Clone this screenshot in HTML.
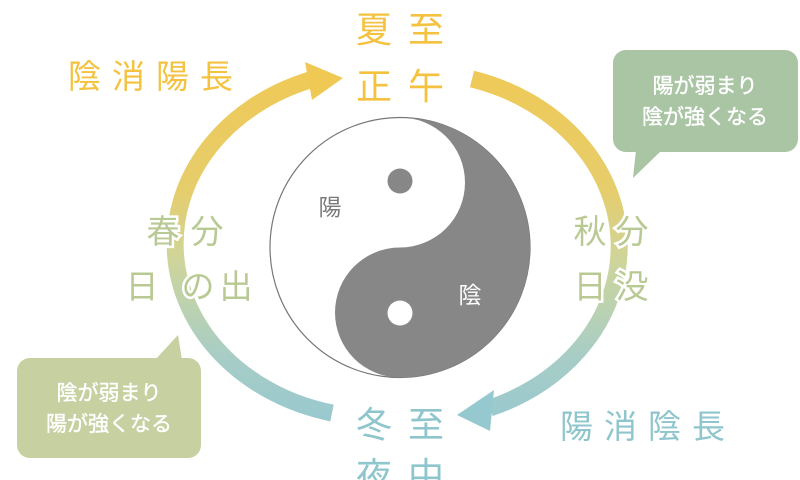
<!DOCTYPE html>
<html><head><meta charset="utf-8"><style>
html,body{margin:0;padding:0;background:#fff;width:800px;height:480px;overflow:hidden}
svg text{font-family:"Liberation Sans","Noto Sans CJK JP",sans-serif}
</style></head><body>
<svg width="800" height="480" viewBox="0 0 800 480" xmlns="http://www.w3.org/2000/svg">
<defs>
<linearGradient id="g" x1="0" y1="60" x2="0" y2="430" gradientUnits="userSpaceOnUse">
<stop offset="0" stop-color="#f0c955"/>
<stop offset="0.35" stop-color="#e6cd6c"/>
<stop offset="0.55" stop-color="#cdd59c"/>
<stop offset="0.8" stop-color="#a8cdc6"/>
<stop offset="1" stop-color="#96c8d0"/>
</linearGradient>
</defs>
<path d="M332,413 A204,174 0 0 1 310,80" fill="none" stroke="url(#g)" stroke-width="17"/>
<polygon points="343,78 305,62 312,100" fill="#f0c955"/>
<path d="M472,79 A204,174 0 0 1 490,408" fill="none" stroke="url(#g)" stroke-width="17"/>
<polygon points="457,415 494,390 490,431" fill="#96c8d0"/>
<circle cx="400" cy="247.5" r="130" fill="#fff" stroke="#777" stroke-width="1.2"/>
<path d="M400,117.5 A130,130 0 0 1 400,377.5 A65,65 0 0 1 400,247.5 A65,65 0 0 0 400,117.5 Z" fill="#878787"/>
<circle cx="400" cy="181" r="12.5" fill="#878787"/>
<circle cx="400" cy="313" r="12.5" fill="#fff"/>
<text x="330" y="215" font-size="23" fill="#7a7a7a" text-anchor="middle">陽</text>
<text x="470" y="303" font-size="23" fill="#fff" text-anchor="middle">陰</text>
<g font-size="36" fill="#f4c23f" text-anchor="middle">
<text x="374" y="42">夏</text><text x="426" y="42">至</text>
<text x="374" y="99">正</text><text x="426" y="99">午</text>
</g>
<g font-size="36" fill="#8fc5cc" text-anchor="middle">
<text x="374" y="437">冬</text><text x="426" y="437">至</text>
<text x="374" y="488">夜</text><text x="426" y="488">中</text>
</g>
<g font-size="33" fill="#b9c994" text-anchor="middle" stroke="#fff" stroke-width="5" paint-order="stroke">
<text x="163" y="243">春</text><text x="207" y="243">分</text>
<text x="142" y="298">日</text><text x="198" y="298">の</text><text x="236" y="298">出</text>
<text x="590" y="243">秋</text><text x="632" y="243">分</text>
<text x="590" y="298">日</text><text x="632" y="298">没</text>
</g>
<text x="68" y="88" font-size="33" fill="#f4c23f" letter-spacing="11">陰消陽長</text>
<text x="560" y="438" font-size="33" fill="#8fc5cc" letter-spacing="11">陽消陰長</text>
<rect x="613" y="50" width="185" height="102" rx="13" fill="#a9c5a4"/>
<polygon points="636,150 662,150 633,178" fill="#a9c5a4"/>
<g font-size="21" fill="#fff" text-anchor="middle" stroke="#fff" stroke-width="0.4">
<text x="705" y="93">陽が弱まり</text>
<text x="705" y="124">陰が強くなる</text>
</g>
<rect x="17" y="358" width="184" height="100" rx="13" fill="#c6d0a0"/>
<polygon points="155,360 182,360 178,335" fill="#c6d0a0"/>
<g font-size="21" fill="#fff" text-anchor="middle" stroke="#fff" stroke-width="0.4">
<text x="109" y="400">陰が弱まり</text>
<text x="109" y="431">陽が強くなる</text>
</g>
</svg>
</body></html>
